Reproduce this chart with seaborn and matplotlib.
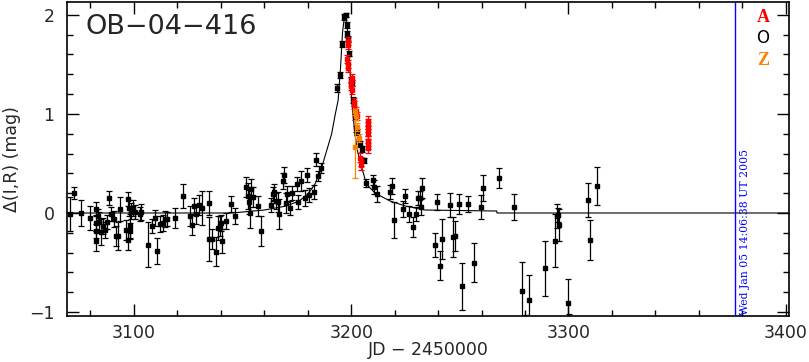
import numpy as np
import pandas as pd
import seaborn as sns
import matplotlib
matplotlib.use("Agg")
import matplotlib.pyplot as plt
from matplotlib.ticker import MultipleLocator

# model curve
model_t = [3069, 3145, 3160, 3170, 3176, 3180, 3183.3, 3186.4, 3189, 3191, 3192.7, 3194,
           3195.1, 3196, 3196.8, 3197.6, 3198.5, 3199.4, 3200.2, 3201.7, 3203, 3204.8,
           3207.1, 3211, 3218, 3225, 3234, 3267, 3267.1, 3402]
model_m = [0.0, 0.0, 0.03, 0.07, 0.12, 0.19, 0.29, 0.46, 0.65, 0.80, 1.0, 1.14,
           1.47, 1.82, 1.97, 1.95, 1.82, 1.47, 1.14, 0.80, 0.62, 0.46,
           0.29, 0.20, 0.12, 0.07, 0.03, 0.02, 0.0, 0.0]

# OGLE (O) points
t_o = [3070.7, 3072.5, 3075.6, 3079.7, 3082.5, 3082.7, 3082.7, 3082.5, 3083.4, 3083.9,
       3084.8, 3085.9, 3086.5, 3087.6, 3088.5, 3089.6, 3090.8, 3091.9, 3092.6, 3093.7,
       3096.5, 3097.2, 3097.5, 3097.7, 3098.0, 3098.4, 3098.8, 3099.6, 3100.3, 3102.6,
       3103.4, 3106.5, 3108.5, 3109.6, 3110.6, 3111.9, 3113.4, 3114.3, 3115.2, 3118.8,
       3122.8, 3125.8, 3126.7, 3127.7, 3128.8, 3129.8, 3131.5, 3134.6, 3134.6, 3136.0,
       3138.0, 3138.7, 3139.5, 3140.1, 3140.7, 3142.6, 3144.6, 3146.7, 3151.8, 3152.5,
       3153.0, 3153.3, 3154.1, 3154.9, 3156.9, 3158.7, 3162.9, 3163.8, 3164.4, 3165.3,
       3166.1, 3166.8, 3168.4, 3168.9, 3169.8, 3170.5, 3171.8, 3172.6, 3174.9, 3175.6,
       3176.7, 3178.7, 3179.7, 3180.7, 3182.9, 3183.7, 3184.8, 3185.9, 3193.6, 3194.8,
       3195.9, 3196.7, 3197.6, 3197.9, 3198.2, 3198.4, 3198.9, 3199.7, 3200.2, 3200.9,
       3201.7, 3202.0, 3202.5, 3204.0, 3204.8, 3206.0, 3206.8, 3209.9, 3210.6, 3212.0,
       3217.8, 3218.9, 3219.8, 3223.7, 3224.9, 3226.7, 3228.6, 3229.8, 3230.6, 3231.7,
       3232.0, 3232.7, 3238.7, 3239.6, 3240.9, 3242.0, 3245.6, 3247.0, 3247.8, 3249.8,
       3250.9, 3253.8, 3256.7, 3259.8, 3260.7, 3267.8, 3274.8, 3278.8, 3280.3, 3281.8,
       3289.0, 3293.7, 3294.7, 3295.1, 3295.7, 3299.7, 3300.2, 3308.8, 3309.7, 3312.9]
m_o = [-0.01, 0.20, 0.00, -0.05, 0.04, -0.10, -0.18, -0.28, -0.03, -0.09,
       -0.19, -0.13, -0.17, -0.09, 0.15, -0.01, -0.06, -0.23, -0.23, 0.04,
       -0.17, -0.27, 0.14, 0.05, -0.13, -0.18, 0.02, 0.05, 0.01, -0.01,
       0.01, -0.32, -0.13, -0.05, -0.38, -0.11, -0.10, -0.06, -0.06, -0.05,
       0.17, -0.03, -0.12, 0.07, -0.01, 0.08, 0.05, -0.26, 0.10, -0.26,
       -0.39, -0.15, -0.13, -0.10, -0.28, -0.08, 0.09, -0.03, 0.26, 0.17,
       0.11, 0.00, 0.24, 0.16, 0.07, -0.18, 0.08, 0.19, 0.21, 0.12,
       0.11, -0.01, 0.32, 0.38, 0.10, 0.19, 0.05, 0.20, 0.29, 0.11,
       0.32, 0.15, 0.38, 0.18, 0.21, 0.54, 0.37, 0.45, 1.26, 1.39,
       1.71, 1.98, 2.00, 1.90, 1.81, 1.76, 1.61, 1.34, 1.31, 1.14,
       0.97, 0.85, 0.82, 0.70, 0.65, 0.53, 0.30, 0.33, 0.26, 0.19,
       0.21, 0.27, -0.07, 0.04, 0.17, -0.01, -0.14, -0.01, 0.15, 0.15,
       0.06, 0.25, -0.32, 0.11, -0.53, -0.26, 0.08, -0.24, -0.23, 0.09,
       -0.74, 0.09, -0.50, 0.06, 0.25, 0.35, 0.06, -0.79, -1.25, -0.88,
       -0.56, -0.28, -0.03, -0.02, -0.12, -0.91, -1.20, 0.13, -0.27, 0.27]
e_o = [0.17, 0.06, 0.13, 0.12, 0.07, 0.08, 0.07, 0.10, 0.07, 0.10,
       0.13, 0.08, 0.08, 0.07, 0.07, 0.07, 0.08, 0.10, 0.14, 0.12,
       0.10, 0.10, 0.07, 0.08, 0.12, 0.08, 0.08, 0.08, 0.07, 0.07,
       0.08, 0.23, 0.07, 0.08, 0.13, 0.08, 0.08, 0.08, 0.07, 0.10,
       0.12, 0.10, 0.10, 0.08, 0.10, 0.10, 0.17, 0.22, 0.12, 0.10,
       0.15, 0.12, 0.10, 0.08, 0.12, 0.08, 0.08, 0.08, 0.10, 0.13,
       0.12, 0.15, 0.10, 0.10, 0.10, 0.15, 0.07, 0.07, 0.08, 0.08,
       0.10, 0.15, 0.08, 0.08, 0.10, 0.08, 0.07, 0.07, 0.07, 0.07,
       0.10, 0.08, 0.07, 0.07, 0.07, 0.07, 0.05, 0.05, 0.04, 0.03,
       0.03, 0.03, 0.02, 0.03, 0.03, 0.03, 0.03, 0.03, 0.03, 0.03,
       0.03, 0.03, 0.03, 0.03, 0.03, 0.03, 0.04, 0.05, 0.07, 0.08,
       0.07, 0.08, 0.18, 0.08, 0.07, 0.08, 0.10, 0.07, 0.07, 0.07,
       0.08, 0.10, 0.12, 0.08, 0.15, 0.20, 0.12, 0.20, 0.15, 0.10,
       0.24, 0.08, 0.20, 0.12, 0.13, 0.10, 0.13, 0.30, 0.22, 0.25,
       0.28, 0.27, 0.12, 0.07, 0.16, 0.24, 0.18, 0.17, 0.20, 0.19]

# A points (red)
t_a = [3198.6, 3198.6, 3198.3, 3198.4, 3198.5, 3200.2, 3200.1, 3200.0, 3200.2, 3201.3,
       3201.4, 3202.3, 3202.5, 3204.2, 3204.4, 3204.5, 3207.6, 3207.6, 3207.6, 3207.6,
       3207.6, 3207.6, 3207.6, 3207.6]
m_a = [1.74, 1.70, 1.55, 1.50, 1.46, 1.36, 1.32, 1.28, 1.24, 1.12,
       1.09, 1.03, 0.98, 0.56, 0.52, 0.48, 0.93, 0.90, 0.87, 0.83,
       0.80, 0.73, 0.70, 0.66]
e_a = [0.04, 0.04, 0.04, 0.04, 0.04, 0.04, 0.04, 0.04, 0.04, 0.04,
       0.04, 0.04, 0.04, 0.05, 0.05, 0.05, 0.05, 0.05, 0.05, 0.05,
       0.05, 0.05, 0.05, 0.05]

# Z points (orange)
t_z = [3201.7, 3202.0, 3202.9, 3203.7, 3201.7]
m_z = [1.03, 0.98, 0.87, 0.76, 0.67]
e_z = [0.04, 0.04, 0.04, 0.04, 0.32]

stamp = "Wed Jan 05 14:06:38 UT 2005"
stamp_t = 3376.5

sns.set_style("ticks")
plt.rcParams['font.family'] = ['DejaVu Sans']

fig = plt.figure(figsize=(8.09, 3.62), dpi=100)
ax = fig.add_axes([0.0828, 0.127, 0.8925, 0.8675])

model = pd.DataFrame({'t': model_t, 'm': model_m})
sns.lineplot(data=model, x='t', y='m', ax=ax, color='black', lw=0.8,
             sort=False, estimator=None)

ax.errorbar(t_o, m_o, yerr=e_o, fmt='s', ms=2.3, color='black', ecolor='black',
            elinewidth=0.9, capsize=2.0, capthick=0.9, zorder=3)
ax.errorbar(t_a, m_a, yerr=e_a, fmt='s', ms=2.3, color='#ff0000', ecolor='#ff0000',
            elinewidth=0.9, capsize=2.0, capthick=0.9, zorder=4)
ax.errorbar(t_z, m_z, yerr=e_z, fmt='s', ms=2.3, color='#ff8000', ecolor='#ff8000',
            elinewidth=0.9, capsize=2.0, capthick=0.9, zorder=4)

ax.axvline(stamp_t, color='blue', lw=1)
ax.text(stamp_t + 2.5, -1.03, stamp, rotation=90, color='blue', fontsize=7.8,
        family='DejaVu Serif', ha='left', va='bottom')

ax.set_xlim(3069.2, 3401.5)
ax.set_ylim(-1.04, 2.13)
ax.xaxis.set_major_locator(MultipleLocator(100))
ax.xaxis.set_minor_locator(MultipleLocator(20))
ax.yaxis.set_major_locator(MultipleLocator(1))
ax.yaxis.set_minor_locator(MultipleLocator(0.2))
ax.tick_params(which='both', direction='in', top=True, right=True, width=1, color='black')
ax.tick_params(which='major', length=8.5, labelsize=12.5)
ax.tick_params(which='minor', length=4.3)
ax.tick_params(axis='x', which='major', pad=6)
ax.tick_params(axis='y', which='major', pad=9)
for s in ax.spines.values():
    s.set_visible(True)
    s.set_color('black')
    s.set_linewidth(1.2)

ax.set_xlabel("JD \u2212 2450000", fontsize=12.5, labelpad=-1)
ax.set_ylabel("\u0394(I,R) (mag)", fontsize=12.5, labelpad=6)

ax.text(0.026, 0.92, "OB\u221204\u2212416", transform=ax.transAxes, fontsize=19.5,
        ha='left', va='center')
ax.text(0.964, 0.952, "A", transform=ax.transAxes, color='#ff0000', fontsize=13,
        family='Liberation Serif', weight='bold', ha='center', va='center')
ax.text(0.964, 0.885, "O", transform=ax.transAxes, color='black', fontsize=12,
        ha='center', va='center')
ax.text(0.964, 0.815, "Z", transform=ax.transAxes, color='#ff8000', fontsize=13,
        family='Liberation Serif', weight='bold', ha='center', va='center')

fig.savefig("out.png", dpi=100)
